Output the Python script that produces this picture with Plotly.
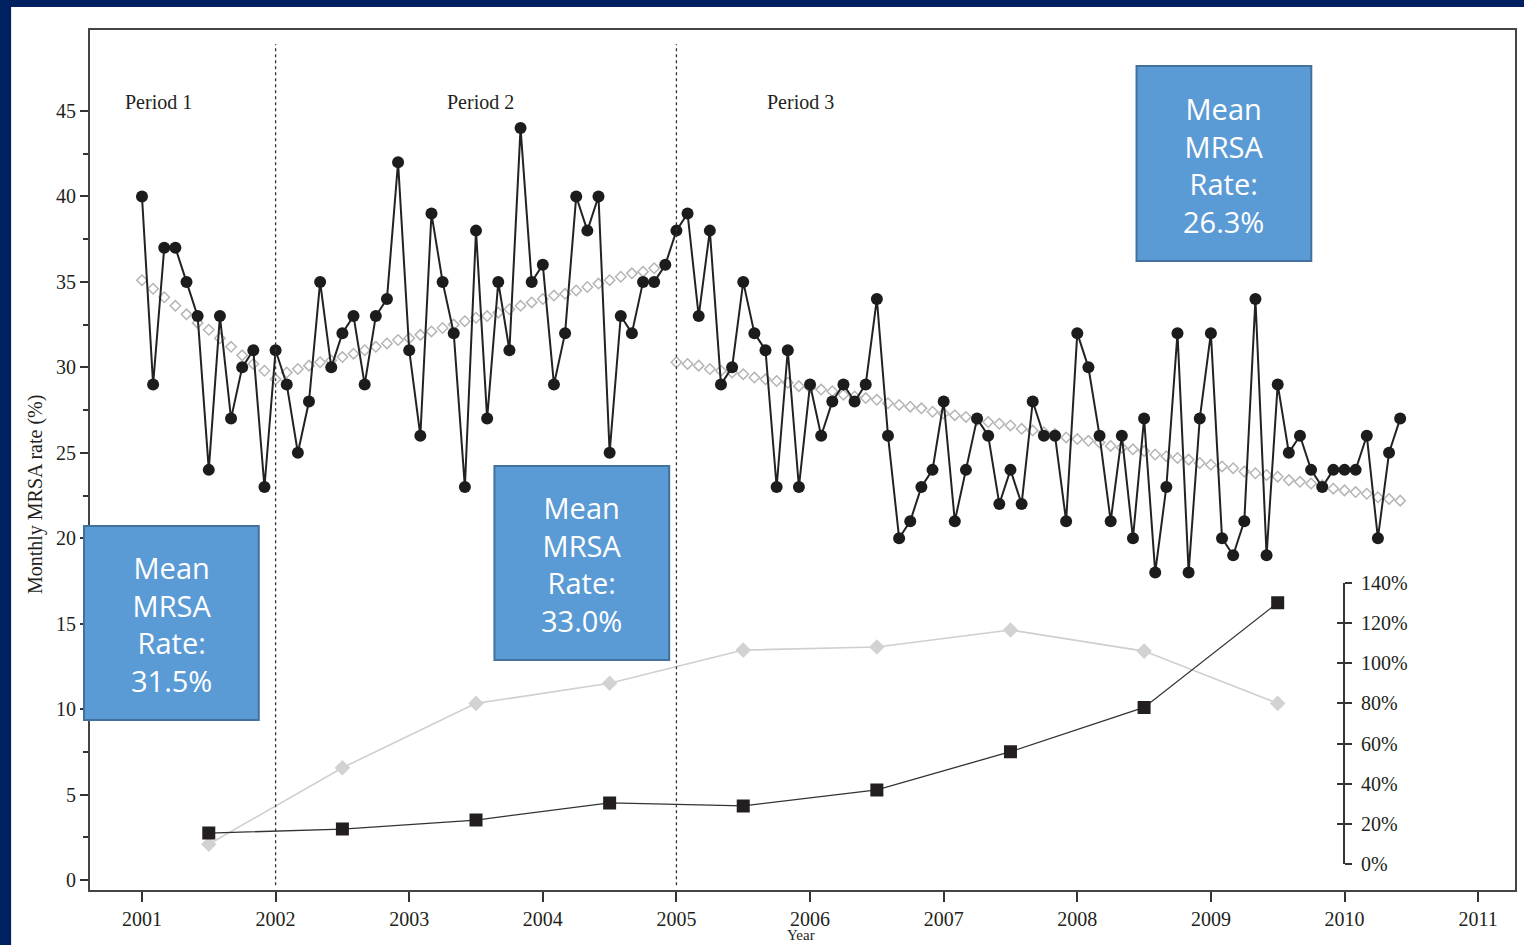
import numpy as np
import plotly.graph_objects as go

# ---------------------------------------------------------------------------
# Monthly MRSA rate (%), Jan 2001 - Jun 2010
# ---------------------------------------------------------------------------
rate_2001 = [40, 29, 37, 37, 35, 33, 24, 33, 27, 30, 31, 23]
rate_2002 = [31, 29, 25, 28, 35, 30, 32, 33, 29, 33, 34, 42]
rate_2003 = [31, 26, 39, 35, 32, 23, 38, 27, 35, 31, 44, 35]
rate_2004 = [36, 29, 32, 40, 38, 40, 25, 33, 32, 35, 35, 36]
rate_2005 = [38, 39, 33, 38, 29, 30, 35, 32, 31, 23, 31, 23]
rate_2006 = [29, 26, 28, 29, 28, 29, 34, 26, 20, 21, 23, 24]
rate_2007 = [28, 21, 24, 27, 26, 22, 24, 22, 28, 26, 26, 21]
rate_2008 = [32, 30, 26, 21, 26, 20, 27, 18, 23, 32, 18, 27]
rate_2009 = [32, 20, 19, 21, 34, 19, 29, 25, 26, 24, 23, 24]
rate_2010 = [24, 24, 26, 20, 25, 27]

# Fitted segment values per month (Period 1: Jan 2001 - Jan 2002,
# Period 2: Feb 2002 - Dec 2004, Period 3: Jan 2005 - Jun 2010)
fit_period1 = [35.1, 34.6, 34.1, 33.6, 33.1, 32.6, 32.2, 31.7, 31.2, 30.7,
               30.2, 29.8, 29.3]
fit_period2 = [29.7, 29.9, 30.1, 30.3, 30.4, 30.6, 30.8, 31.0, 31.2, 31.4,
               31.6, 31.7, 31.9, 32.1, 32.3, 32.5, 32.7, 32.9, 33.0, 33.2,
               33.4, 33.6, 33.8, 34.0, 34.2, 34.3, 34.5, 34.7, 34.9, 35.1,
               35.3, 35.5, 35.6, 35.8, 36.0]
fit_period3 = [30.3, 30.2, 30.1, 29.9, 29.8, 29.7, 29.6, 29.4, 29.3, 29.2,
               29.1, 28.9, 28.8, 28.7, 28.6, 28.4, 28.3, 28.2, 28.1, 27.9,
               27.8, 27.7, 27.6, 27.4, 27.3, 27.2, 27.1, 26.9, 26.8, 26.7,
               26.6, 26.4, 26.3, 26.2, 26.1, 25.9, 25.8, 25.7, 25.6, 25.4,
               25.3, 25.2, 25.1, 24.9, 24.8, 24.7, 24.6, 24.4, 24.3, 24.2,
               24.1, 23.9, 23.8, 23.7, 23.6, 23.4, 23.3, 23.2, 23.1, 22.9,
               22.8, 22.7, 22.6, 22.4, 22.3, 22.2]

# Annual percentages (right-hand scale), plotted at mid-year
annual_years = [2001, 2002, 2003, 2004, 2005, 2006, 2007, 2008, 2009]
annual_pct_a = [15.5, 17.5, 22, 30.5, 29, 37, 56, 78, 130]      # black squares
annual_pct_b = [10, 48, 80, 90, 106.5, 108, 116.5, 106, 80]    # grey diamonds

year_ticks = list(range(2001, 2012))
rate_ticks = list(range(0, 50, 5))
rate_minor_ticks = [v + 2.5 for v in range(0, 45, 5)]
pct_ticks = list(range(0, 141, 20))
pct_tick_text = [f"{v}%" for v in pct_ticks]

period_labels = ["Period 1", "Period 2", "Period 3"]
period_label_x = [2001.12, 2003.53, 2005.93]
period_breaks = [2002, 2005]

mean_boxes = [
    ("31.5%", 84, 259, 526, 720),
    ("33.0%", 495, 670, 466, 660),
    ("26.3%", 1138, 1313, 66, 261),
]

# ---------------------------------------------------------------------------
W, H = 1524, 945
ML, MR, MT, MB = 90, 7, 30, 55
PW, PH = W - ML - MR, H - MT - MB


def px_x(px):
    return (px - ML) / PW


def px_y(py):
    return (H - MB - py) / PH


NAVY = "#002060"
INK = "#231f20"
SERIF = "Liberation Serif, Times New Roman, serif"

rate = (rate_2001 + rate_2002 + rate_2003 + rate_2004 + rate_2005 +
        rate_2006 + rate_2007 + rate_2008 + rate_2009 + rate_2010)
month_x = 2001 + np.arange(len(rate)) / 12.0

fit_all = fit_period1 + fit_period2 + fit_period3
fit_x = 2001 + np.arange(len(fit_all)) / 12.0

annual_x = [y + 0.5 for y in annual_years]

fig = go.Figure()

# fitted segments (open grey diamonds)
fig.add_trace(go.Scatter(
    x=fit_x, y=fit_all, mode="markers", xaxis="x", yaxis="y",
    marker=dict(symbol="diamond-open", size=8, color="#b5b5b5",
                line=dict(width=1.5, color="#b5b5b5")),
    hoverinfo="skip", showlegend=False,
))

# observed monthly rate
fig.add_trace(go.Scatter(
    x=month_x, y=rate, mode="lines+markers", xaxis="x", yaxis="y",
    line=dict(color="#222222", width=2),
    marker=dict(symbol="circle", size=12, color="#1c1c1c"),
    showlegend=False,
))

# annual series on the right-hand percentage scale
fig.add_trace(go.Scatter(
    x=annual_x, y=annual_pct_b, mode="lines+markers", xaxis="x", yaxis="y2",
    line=dict(color="#cfcfcf", width=1.6),
    marker=dict(symbol="diamond", size=12, color="#d2d2d2"),
    showlegend=False,
))
fig.add_trace(go.Scatter(
    x=annual_x, y=annual_pct_a, mode="lines+markers", xaxis="x", yaxis="y3",
    line=dict(color="#333333", width=1.3),
    marker=dict(symbol="square", size=13, color=INK),
    showlegend=False,
))

shapes = [
    # white panel over the navy page
    dict(type="rect", xref="paper", yref="paper", layer="below",
         x0=px_x(11), x1=px_x(W + 20), y0=px_y(H + 20), y1=px_y(7),
         fillcolor="white", line=dict(width=0)),
]
for xb in period_breaks:
    shapes.append(dict(type="line", xref="x", yref="y", x0=xb, x1=xb,
                       y0=-0.3, y1=48.9,
                       line=dict(color="#333333", width=1.3, dash="dot")))

annotations = []
for lab, xl in zip(period_labels, period_label_x):
    annotations.append(dict(text=lab, x=xl, y=45.5, xref="x", yref="y",
                            showarrow=False,
                            font=dict(family=SERIF, size=20, color=INK)))

for value, x0, x1, y0, y1 in mean_boxes:
    shapes.append(dict(type="rect", xref="paper", yref="paper", layer="above",
                       x0=px_x(x0), x1=px_x(x1), y0=px_y(y1), y1=px_y(y0),
                       fillcolor="#5b9bd5",
                       line=dict(color="#41719c", width=2)))
    annotations.append(dict(
        text="Mean<br>MRSA<br>Rate:<br>" + value,
        x=px_x((x0 + x1) / 2), y=px_y((y0 + y1) / 2 + 1),
        xref="paper", yref="paper", showarrow=False,
        xanchor="center", yanchor="middle",
        font=dict(family="Open Sans, Noto Sans, sans-serif", size=29,
                  color="white"),
    ))

annotations.append(dict(
    text="Monthly MRSA rate (%)", textangle=-90,
    x=px_x(35), y=px_y(495), xref="paper", yref="paper",
    showarrow=False, xanchor="center", yanchor="middle",
    font=dict(family=SERIF, size=20, color=INK),
))
annotations.append(dict(
    text="Year", x=px_x(802), y=px_y(945), xref="paper", yref="paper",
    showarrow=False, xanchor="center", yanchor="bottom",
    font=dict(family=SERIF, size=15, color=INK),
))

pct_domain = [px_y(864.3), px_y(582.7)]
pct_pos = px_x(1346)

fig.update_layout(
    width=W, height=H, autosize=False,
    margin=dict(l=ML, r=MR, t=MT, b=MB, pad=0),
    paper_bgcolor=NAVY, plot_bgcolor="white",
    showlegend=False,
    xaxis=dict(
        range=[2000.611, 2011.276], tickvals=year_ticks,
        ticktext=[str(y) for y in year_ticks],
        ticks="outside", ticklen=10, tickwidth=1.5, tickcolor="#333333",
        showline=True, linecolor="#444444", linewidth=2, mirror=True,
        showgrid=False, zeroline=False,
        tickfont=dict(family=SERIF, size=20, color=INK),
    ),
    yaxis=dict(
        range=[-0.585, 49.74], tickvals=rate_ticks,
        ticks="outside", ticklen=8, tickwidth=1.5, tickcolor="#333333",
        minor=dict(tickvals=rate_minor_ticks, ticks="outside", ticklen=5,
                   tickwidth=1.5, tickcolor="#333333"),
        showline=True, linecolor="#444444", linewidth=2, mirror=True,
        showgrid=False, zeroline=False,
        tickfont=dict(family=SERIF, size=20, color=INK),
    ),
    yaxis2=dict(
        domain=pct_domain, anchor="free", position=pct_pos, side="right",
        range=[0, 140], tickvals=pct_ticks, ticktext=pct_tick_text,
        ticks="outside", ticklen=7, tickwidth=1.5, tickcolor="#333333",
        showline=True, linecolor="#333333", linewidth=1.5,
        showgrid=False, zeroline=False, ticklabelstandoff=5,
        tickfont=dict(family=SERIF, size=20, color=INK),
    ),
    yaxis3=dict(
        overlaying="y2", anchor="free", position=pct_pos, side="right",
        range=[0, 140], tickvals=pct_ticks,
        ticks="inside", ticklen=7, tickwidth=1.5, tickcolor="#333333",
        showticklabels=False, showline=False,
        showgrid=False, zeroline=False,
    ),
    shapes=shapes,
    annotations=annotations,
)

fig.write_html("out.html", config={"displayModeBar": False})
